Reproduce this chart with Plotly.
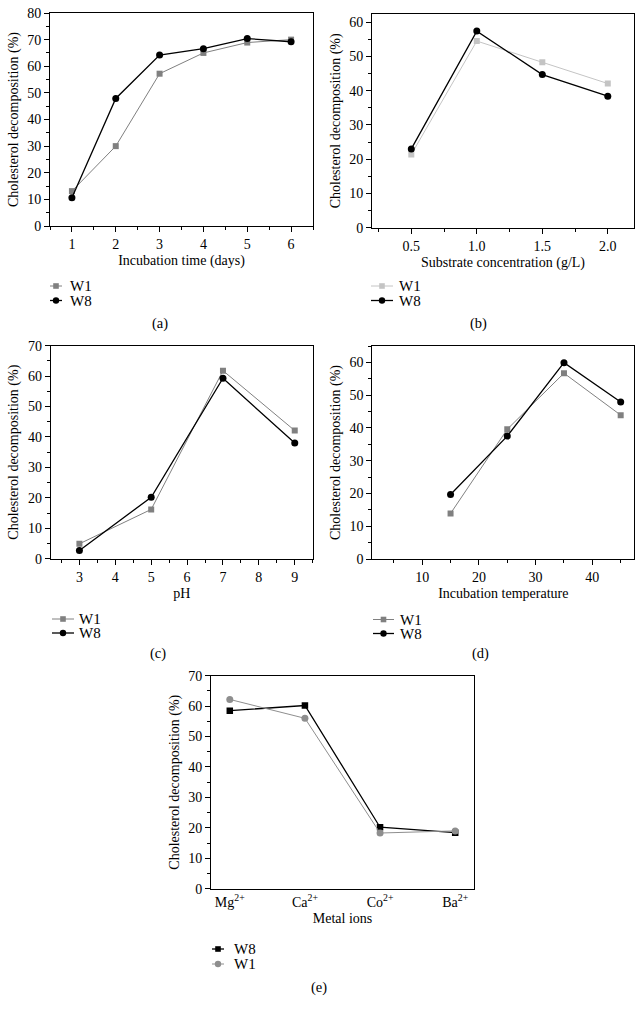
import plotly.graph_objects as go

# ---------------- data ----------------
days = [1, 2, 3, 4, 5, 6]
a_w1 = [13.1, 30.0, 57.2, 65.0, 68.9, 70.0]
a_w8 = [10.6, 47.9, 64.2, 66.6, 70.4, 69.2]

substrate = [0.5, 1.0, 1.5, 2.0]
b_w1 = [21.4, 54.5, 48.3, 42.1]
b_w8 = [23.0, 57.4, 44.7, 38.4]

ph = [3, 5, 7, 9]
c_w1 = [4.9, 16.2, 61.8, 42.1]
c_w8 = [2.7, 20.2, 59.3, 38.0]

temperature = [15, 25, 35, 45]
d_w1 = [13.9, 39.6, 56.7, 43.9]
d_w8 = [19.7, 37.5, 59.9, 47.9]

metal_ions = ["Mg<sup>2+</sup>", "Ca<sup>2+</sup>", "Co<sup>2+</sup>", "Ba<sup>2+</sup>"]
e_w8 = [58.5, 60.2, 20.2, 18.4]
e_w1 = [62.2, 56.0, 18.3, 19.0]

x_titles = ["Incubation time (days)", "Substrate concentration (g/L)", "pH",
            "Incubation temperature", "Metal ions"]
y_title = "Cholesterol decomposition (%)"
panel_labels = ["(a)", "(b)", "(c)", "(d)", "(e)"]

# ---------------- layout helpers ----------------
W, H = 643, 1012
FONT = "Liberation Serif"
FS = 14


def px_x(v):
    return v / W


def px_y(v):
    return 1 - v / H


GRAY = "#808080"
LGRAY = "#c4c4c4"
EGRAY = "#8e8e8e"
BLACK = "#000000"

fig = go.Figure()

# panel boxes in pixels: (left, top, right, bottom)
boxes = [
    (50, 13, 313, 226),
    (372, 14, 634, 227.7),
    (50.7, 345.7, 312.7, 558.7),
    (372.3, 346, 634.3, 559),
    (211, 675.7, 474, 888.7),
]

series = [
    (days, a_w1, a_w8, GRAY),
    (substrate, b_w1, b_w8, LGRAY),
    (ph, c_w1, c_w8, GRAY),
    (temperature, d_w1, d_w8, GRAY),
]

for i, (xs, w1, w8, c1) in enumerate(series):
    ax = "" if i == 0 else str(i + 1)
    fig.add_trace(go.Scatter(x=xs, y=w1, mode="lines+markers", name="W1",
                             xaxis="x" + ax, yaxis="y" + ax,
                             line=dict(color=c1, width=1),
                             marker=dict(symbol="square", size=6, color=c1),
                             showlegend=False))
    fig.add_trace(go.Scatter(x=xs, y=w8, mode="lines+markers", name="W8",
                             xaxis="x" + ax, yaxis="y" + ax,
                             line=dict(color=BLACK, width=1.3),
                             marker=dict(symbol="circle", size=7, color=BLACK),
                             showlegend=False))

fig.add_trace(go.Scatter(x=metal_ions, y=e_w8, mode="lines+markers", name="W8",
                         xaxis="x5", yaxis="y5",
                         line=dict(color=BLACK, width=1.3),
                         marker=dict(symbol="square", size=6.5, color=BLACK),
                         showlegend=False))
fig.add_trace(go.Scatter(x=metal_ions, y=e_w1, mode="lines+markers", name="W1",
                         xaxis="x5", yaxis="y5",
                         line=dict(color=EGRAY, width=1),
                         marker=dict(symbol="circle", size=7, color=EGRAY),
                         showlegend=False))

base = dict(showline=True, linecolor="black", linewidth=1, mirror=True,
            ticks="outside", ticklen=5, tickwidth=1, tickcolor="black",
            showgrid=False, zeroline=False, automargin=False,
            tickfont=dict(family=FONT, size=FS, color="black"),
            title_font=dict(family=FONT, size=FS, color="black"))

x_specs = [
    dict(range=[0.5, 6.5], tick0=1, dtick=1,
         minor=dict(ticks="outside", ticklen=3, tickcolor="black", dtick=0.5, tick0=0.5, showgrid=False)),
    dict(range=[0.2, 2.2], tick0=0.5, dtick=0.5, tickformat=".1f",
         minor=dict(ticks="outside", ticklen=3, tickcolor="black", dtick=0.25, tick0=0.25, showgrid=False)),
    dict(range=[2.2, 9.5], tick0=1, dtick=1,
         minor=dict(ticks="outside", ticklen=3, tickcolor="black", dtick=0.5, tick0=0.5, showgrid=False)),
    dict(range=[1.2, 47.4], tick0=0, dtick=10,
         minor=dict(ticks="outside", ticklen=3, tickcolor="black", dtick=5, tick0=5, showgrid=False)),
    dict(range=[-0.25, 3.25], type="category", ticks=""),
]
y_ranges = [[0, 80], [0, 62.4], [0, 70], [0, 65], [0, 70]]

layout = {}
for i, (l, t, r, b) in enumerate(boxes):
    ax = "" if i == 0 else str(i + 1)
    xa = dict(base)
    xa.update(x_specs[i])
    xa.update(domain=[px_x(l), px_x(r)], anchor="y" + ax,
              title=dict(text=x_titles[i], standoff=4))
    ya = dict(base)
    ya.update(range=y_ranges[i], tick0=0, dtick=10, anchor="x" + ax,
              domain=[px_y(b), px_y(t)],
              minor=dict(ticks="outside", ticklen=3, tickcolor="black", dtick=5, tick0=0, showgrid=False),
              title=dict(text=y_title, standoff=5))
    layout["xaxis" + ax] = xa
    layout["yaxis" + ax] = ya

# ---------------- manual legends ----------------
shapes = []
annotations = []
LFS = 15
legends = [
    # (line x0, line x1, text x, [(name, color, symbol, y), ...])
    (50, 62, 69, [("W1", GRAY, "square", 286), ("W8", BLACK, "circle", 300.5)]),
    (371, 393, 398, [("W1", LGRAY, "square", 286), ("W8", BLACK, "circle", 300.5)]),
    (52, 74, 78, [("W1", GRAY, "square", 619), ("W8", BLACK, "circle", 633)]),
    (373, 394, 399, [("W1", GRAY, "square", 619.5), ("W8", BLACK, "circle", 633.5)]),
    (212, 224, 233, [("W8", BLACK, "square", 949), ("W1", EGRAY, "circle", 964)]),
]
for x0, x1, tx, items in legends:
    for name, col, sym, yy in items:
        lw = 1.3 if col == BLACK else 1
        shapes.append(dict(type="line", xref="paper", yref="paper",
                           x0=px_x(x0), x1=px_x(x1), y0=px_y(yy), y1=px_y(yy),
                           line=dict(color=col, width=lw)))
        cx = (x0 + x1) / 2
        r = 2.8 if sym == "square" else 3.2
        shapes.append(dict(type="rect" if sym == "square" else "circle",
                           xref="paper", yref="paper",
                           x0=px_x(cx - r), x1=px_x(cx + r),
                           y0=px_y(yy + r), y1=px_y(yy - r),
                           fillcolor=col, line=dict(color=col, width=0)))
        annotations.append(dict(text=name, xref="paper", yref="paper",
                                x=px_x(tx), y=px_y(yy), xanchor="left", yanchor="middle",
                                showarrow=False, borderpad=0,
                                font=dict(family=FONT, size=LFS, color="black")))

label_pos = [(160, 323), (478, 323), (158, 653), (480, 653), (319, 987)]
for txt, (lx, ly) in zip(panel_labels, label_pos):
    annotations.append(dict(text=txt, xref="paper", yref="paper",
                            x=px_x(lx), y=px_y(ly), xanchor="center", yanchor="middle",
                            showarrow=False,
                            font=dict(family=FONT, size=FS + 0.5, color="black")))

fig.update_layout(width=W, height=H, margin=dict(l=0, r=0, t=0, b=0),
                  paper_bgcolor="white", plot_bgcolor="white",
                  font=dict(family=FONT, size=FS, color="black"),
                  shapes=shapes, annotations=annotations, **layout)

fig.write_html("out.html", config={"displayModeBar": False},
               post_script="document.body.style.margin='0';"
                           "document.body.style.padding='0';"
                           "document.body.style.overflow='hidden';")
